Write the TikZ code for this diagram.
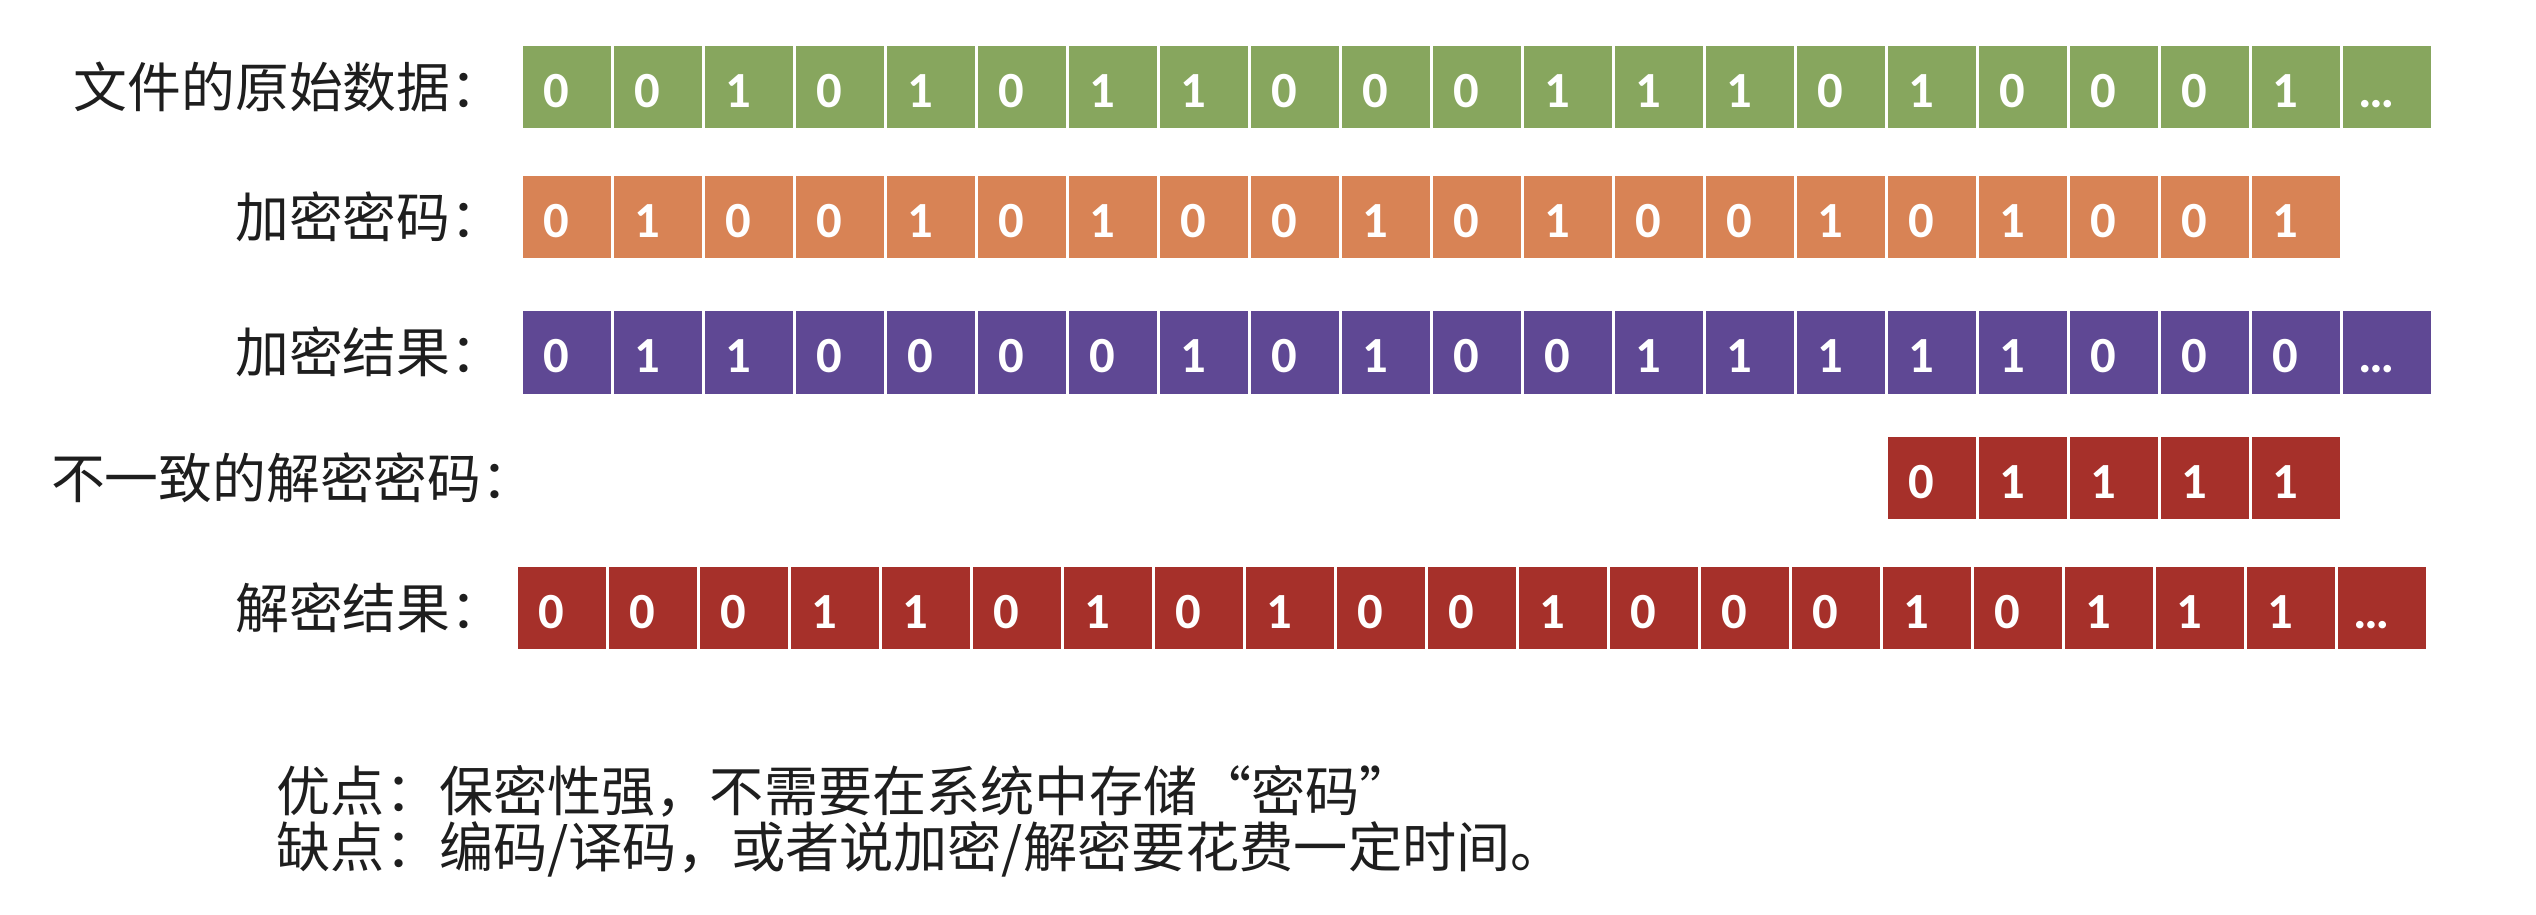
\documentclass[tikz,border=0pt]{standalone}
\usepackage{fontspec}
\usepackage{tikz}
\usetikzlibrary{calc}
\newfontfamily\cjk{Noto Sans CJK SC}
\newfontfamily\bitfont{Carlito}
\definecolor{bitgreen}{RGB}{135,166,94}
\definecolor{bitorange}{RGB}{216,131,85}
\definecolor{bitpurple}{RGB}{95,72,148}
\definecolor{bitred}{RGB}{166,48,42}
\definecolor{textgray}{RGB}{30,30,30}
\tikzset{
    bit/.style={anchor=base, inner sep=0pt, text=white, font=\bitfont\bfseries\fontsize{14.4pt}{16pt}\selectfont},
    rowlabel/.style={anchor=east, inner sep=0pt, text=textgray, font=\cjk\fontsize{15.3pt}{18pt}\selectfont},
    note/.style={anchor=west, inner sep=0pt, text=textgray, font=\cjk\fontsize{15.4pt}{18pt}\selectfont},
}

\begin{document}
\begin{tikzpicture}[x=0.01cm,y=-0.01cm]
        \useasboundingbox (0,0) rectangle (2536,914);
        \foreach \b [count=\i from 0] in {0,0,1,0,1,0,1,1,0,0,0,1,1,1,0,1,0,0,0,1,…} {
            \fill[bitgreen] (523+\i*91,46) rectangle ++(88,82);
            \node[bit] (data\i) at (556+\i*91,107) {\b};
        }
        \foreach \b [count=\i from 0] in {0,1,0,0,1,0,1,0,0,1,0,1,0,0,1,0,1,0,0,1} {
            \fill[bitorange] (523+\i*91,176) rectangle ++(88,82);
            \node[bit] (key\i) at (556+\i*91,237) {\b};
        }
        \foreach \b [count=\i from 0] in {0,1,1,0,0,0,0,1,0,1,0,0,1,1,1,1,1,0,0,0,…} {
            \fill[bitpurple] (523+\i*91,311) rectangle ++(88,83);
            \node[bit] (cipher\i) at (556+\i*91,372) {\b};
        }
        \foreach \b [count=\i from 15] in {0,1,1,1,1} {
            \fill[bitred] (523+\i*91,437) rectangle ++(88,82);
            \node[bit] (wrongkey\i) at (556+\i*91,498) {\b};
        }
        \foreach \b [count=\i from 0] in {0,0,0,1,1,0,1,0,1,0,0,1,0,0,0,1,0,1,1,1,…} {
            \fill[bitred] (518+\i*91,567) rectangle ++(88,82);
            \node[bit] (plain\i) at (551+\i*91,628) {\b};
        }

        \node[rowlabel] (datalbl) at (505,87) {文件的原始数据：};
        \node[rowlabel] (keylbl) at (505,217) {加密密码：};
        \node[rowlabel] (cipherlbl) at (505,352) {加密结果：};
        \node[rowlabel] (wrongkeylbl) at (536,478) {不一致的解密密码：};
        \node[rowlabel] (plainlbl) at (505,608) {解密结果：};

        \node[note] (pro) at (276,791) {优点：保密性强，不需要在系统中存储“密码”};
        \node[note] (con) at (276,849) {缺点：编码/译码，或者说加密/解密要花费一定时间。};
    \end{tikzpicture}
\end{document}
